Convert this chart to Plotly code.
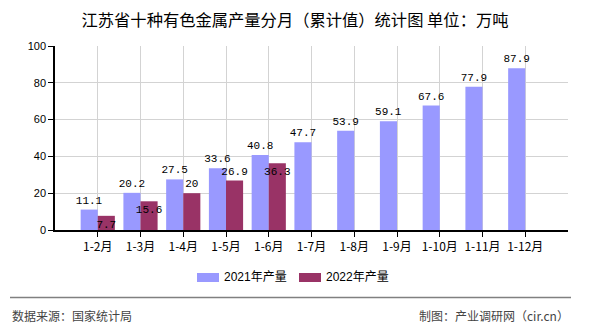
import plotly.graph_objects as go

categories = ["1-2月", "1-3月", "1-4月", "1-5月", "1-6月", "1-7月", "1-8月", "1-9月", "1-10月", "1-11月", "1-12月"]
values_2021 = [11.1, 20.2, 27.5, 33.6, 40.8, 47.7, 53.9, 59.1, 67.6, 77.9, 87.9]
values_2022 = [7.7, 15.6, 20, 26.9, 36.3]
cats_2022 = categories[:len(values_2022)]
label_pos_2022 = ["inside", "inside", "outside", "outside", "inside"]
y_ticks = [0, 20, 40, 60, 80, 100]
series_names = ["2021年产量", "2022年产量"]
series_colors = ["#9999FF", "#993366"]

W, H = 590, 330
L, R, T, B = 55, 22, 46, 100
PW, PH = W - L - R, H - T - B


def px(x):
    return (x - L) / PW


def py(y):
    return (H - B - y) / PH


label_font = dict(family="Liberation Mono, DejaVu Sans Mono, monospace", size=11, color="#000000")

fig = go.Figure()
fig.add_trace(go.Bar(
    x=categories, y=values_2021, name=series_names[0],
    marker=dict(color=series_colors[0], line=dict(width=0)),
    text=[str(v) for v in values_2021], textposition="outside", textangle=0,
    textfont=label_font, cliponaxis=False, showlegend=False,
))
fig.add_trace(go.Bar(
    x=cats_2022, y=values_2022, name=series_names[1],
    marker=dict(color=series_colors[1], line=dict(width=0)),
    text=[str(v) for v in values_2022], textposition=label_pos_2022, insidetextanchor="end",
    textangle=0, textfont=label_font, cliponaxis=False, showlegend=False,
))

fig.update_layout(
    width=W, height=H,
    margin=dict(l=L, r=R, t=T, b=B),
    paper_bgcolor="white", plot_bgcolor="white",
    barmode="group", bargap=0.2, bargroupgap=0,
    uniformtext=dict(minsize=11, mode="show"),
    font=dict(family="Noto Sans CJK SC, sans-serif", color="#000000"),
    title=dict(text="江苏省十种有色金属产量分月（累计值）统计图 单位：万吨",
               x=0.5, xanchor="center", y=1 - 20 / H, yanchor="middle",
               font=dict(size=16.3, color="#000000", family="Noto Sans CJK SC, sans-serif")),
    showlegend=False,
    xaxis=dict(
        type="category", range=[-1, 11],
        showgrid=True, gridcolor="#D3D3D3", gridwidth=1,
        showline=True, linecolor="#000000", linewidth=1.5,
        ticks="outside", ticklen=5, tickcolor="#000000",
        tickfont=dict(size=12, family="Noto Sans CJK SC, sans-serif", color="#000000"),
    ),
    yaxis=dict(
        range=[0, 100], tickvals=y_ticks,
        showgrid=True, gridcolor="#D3D3D3", gridwidth=1,
        showline=True, linecolor="#000000", linewidth=1.5,
        ticks="outside", ticklen=5, tickcolor="#000000", zeroline=False,
        tickfont=dict(size=11, family="Liberation Sans, Arial, sans-serif", color="#000000"),
    ),
)

# manual legend
legend_x = [197, 299]
for lx, name, col in zip(legend_x, series_names, series_colors):
    fig.add_shape(type="rect", xref="paper", yref="paper",
                  x0=px(lx), x1=px(lx + 22), y0=py(273), y1=py(282),
                  fillcolor=col, line=dict(width=0))
    fig.add_annotation(text=name, xref="paper", yref="paper",
                       x=px(lx + 25), xanchor="left", y=py(277), yanchor="middle",
                       showarrow=False,
                       font=dict(size=12, color="#000000", family="Liberation Sans, Noto Sans CJK SC, sans-serif"))

fig.add_shape(type="line", xref="paper", yref="paper",
              x0=px(10), x1=px(571), y0=py(297.5), y1=py(297.5),
              line=dict(color="#808080", width=1.5))
fig.add_annotation(text="数据来源：国家统计局", xref="paper", yref="paper",
                   x=px(10), xanchor="left", y=py(315), yanchor="middle",
                   showarrow=False, font=dict(size=12, color="#444444", family="Noto Sans CJK SC, sans-serif"))
fig.add_annotation(text="制图：产业调研网（cir.cn）", xref="paper", yref="paper",
                   x=px(571), xanchor="right", y=py(315), yanchor="middle",
                   showarrow=False, font=dict(size=12, color="#444444", family="Noto Sans CJK SC, sans-serif"))

fig.write_html("out.html")
